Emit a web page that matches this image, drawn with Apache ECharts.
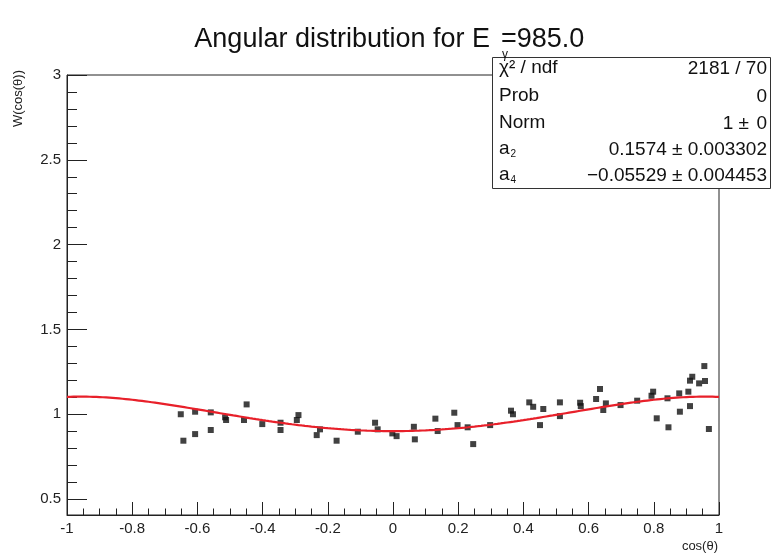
<!DOCTYPE html>
<html>
<head>
<meta charset="utf-8">
<script src="https://cdn.jsdelivr.net/npm/echarts@6/dist/echarts.min.js"></script>
<style>
  html, body { margin: 0; padding: 0; background: #fff; }
  #chart { width: 777px; height: 553px; }
</style>
</head>
<body>
<div id="chart"></div>
<script>
// Measured points: cos(theta) and normalised yield W
const cosTheta = [
  -0.651, -0.643, -0.607, -0.607, -0.559, -0.559, -0.515, -0.512, -0.449, -0.457,
  -0.401, -0.345, -0.345, -0.295, -0.290, -0.224, -0.234, -0.173, -0.108, -0.055,
  -0.047, -0.002, 0.011, 0.064, 0.067, 0.130, 0.137, 0.188, 0.198, 0.229,
  0.246, 0.298, 0.362, 0.368, 0.418, 0.430, 0.451, 0.461, 0.512, 0.512,
  0.574, 0.576, 0.623, 0.635, 0.645, 0.653, 0.698, 0.749, 0.793, 0.798,
  0.809, 0.845, 0.842, 0.878, 0.880, 0.906, 0.911, 0.911, 0.918, 0.939,
  0.957, 0.955, 0.969
];
const weight = [
  1.000, 0.844, 1.015, 0.883, 1.011, 0.907, 0.982, 0.966, 1.058, 0.966,
  0.942, 0.950, 0.907, 0.966, 0.995, 0.911, 0.877, 0.844, 0.897, 0.950,
  0.911, 0.887, 0.871, 0.926, 0.852, 0.974, 0.901, 1.009, 0.936, 0.923,
  0.824, 0.936, 1.021, 1.000, 1.070, 1.044, 0.936, 1.031, 1.070, 0.989,
  1.068, 1.048, 1.090, 1.149, 1.025, 1.064, 1.054, 1.080, 1.109, 1.133,
  0.976, 0.923, 1.094, 1.123, 1.015, 1.133, 1.048, 1.198, 1.221, 1.182,
  1.196, 1.284, 0.913
];

// Fit result: W = Norm * (1 + a2*P2 + a4*P4)
const fitNorm = 1;
const fitA2 = 0.1574;
const fitA4 = -0.05529;

// Axis tick values
const yMajorTicks = [0.5, 1, 1.5, 2, 2.5, 3];
const yMinorTicks = [0.6, 0.7, 0.8, 0.9, 1.1, 1.2, 1.3, 1.4, 1.6, 1.7, 1.8, 1.9,
                     2.1, 2.2, 2.3, 2.4, 2.6, 2.7, 2.8, 2.9];

// Stats box rows
const statNames = ['χ² / ndf', 'Prob', 'Norm', 'a{s|2}', 'a{s|4}'];
const statValues = ['2181 / 70', '0', '1 ±', '0.1574 ± 0.003302', '−0.05529 ± 0.004453'];
const normError = '0';

const FONT = '"Liberation Sans", Arial, Helvetica, sans-serif';

function legendreW(x) {
  const p2 = (3 * x * x - 1) / 2;
  const p4 = (35 * x ** 4 - 30 * x * x + 3) / 8;
  return fitNorm * (1 + fitA2 * p2 + fitA4 * p4);
}
const curve = [];
for (let i = 0; i <= 200; i++) {
  const x = -1 + i * 0.01;
  curve.push([x, legendreW(x)]);
}

const points = cosTheta.map((c, i) => [c, weight[i]]);

const chart = echarts.init(document.getElementById('chart'), null, { renderer: 'canvas' });

const gridLeft = 67, gridTop = 75, gridW = 652, gridH = 440;
const boxX = 492, boxY = 57, boxW = 278, boxH = 131;
const rowY = [69, 97, 124, 150, 176];
const STAT_FONT = '19px ' + FONT;

const statGraphics = [];
statNames.forEach((name, i) => {
  statGraphics.push({
    type: 'text', left: boxX + 7, top: rowY[i] - 11, z: 20,
    style: {
      text: name, fill: '#111', font: STAT_FONT,
      rich: { s: { fontSize: 10, fill: '#111', padding: [11, 0, 0, 1], fontFamily: FONT } }
    }
  });
  statGraphics.push({
    type: 'text', x: i === 2 ? 749 : 767, y: rowY[i], z: 20,
    style: { text: statValues[i], fill: '#111', font: STAT_FONT, align: 'right', verticalAlign: 'middle' }
  });
});
statGraphics.push({
  type: 'text', x: 767, y: rowY[2], z: 20,
  style: { text: normError, fill: '#111', font: STAT_FONT, align: 'right', verticalAlign: 'middle' }
});

chart.setOption({
  animation: false,
  backgroundColor: '#fff',
  grid: {
    left: gridLeft, top: gridTop, width: gridW, height: gridH,
    show: true, borderColor: '#222', borderWidth: 1, backgroundColor: 'transparent'
  },
  xAxis: {
    type: 'value', min: -1, max: 1, interval: 0.2,
    axisLine: { show: true, onZero: false, lineStyle: { color: '#222', width: 1 } },
    axisTick: { show: true, inside: true, length: 13, lineStyle: { color: '#222' } },
    minorTick: { show: true, splitNumber: 4, length: 6.5, lineStyle: { color: '#222' } },
    splitLine: { show: false },
    axisLabel: {
      margin: 6, color: '#222', fontSize: 15, fontFamily: FONT,
      formatter: v => String(Math.round(v * 10) / 10)
    }
  },
  yAxis: [{
    type: 'value', min: 0.406, max: 3,
    axisLine: { show: true, onZero: false, lineStyle: { color: '#222', width: 1 } },
    axisTick: { show: true, inside: true, length: 20, customValues: yMajorTicks, lineStyle: { color: '#222' } },
    splitLine: { show: false },
    axisLabel: {
      customValues: yMajorTicks, margin: 6, color: '#222', fontSize: 15, fontFamily: FONT,
      formatter: v => String(v)
    }
  }, {
    type: 'value', min: 0.406, max: 3, position: 'left',
    axisLine: { show: false, onZero: false },
    axisTick: { show: true, inside: true, length: 10, customValues: yMinorTicks, lineStyle: { color: '#222' } },
    axisLabel: { show: false },
    splitLine: { show: false }
  }],
  series: [{
    type: 'scatter', data: points, symbol: 'rect', symbolSize: 6,
    itemStyle: { color: '#111' }, z: 3, silent: true
  }, {
    type: 'line', data: curve, showSymbol: false, smooth: false,
    lineStyle: { color: '#e8202a', width: 2.2 }, z: 4, silent: true
  }],
  graphic: [
    {
      type: 'text', x: 490, y: 40, z: 10,
      style: { text: 'Angular distribution for E', font: '27px ' + FONT, fill: '#111', align: 'right', verticalAlign: 'middle' }
    },
    {
      type: 'text', x: 501, y: 40, z: 10,
      style: { text: '=985.0', font: '27px ' + FONT, fill: '#111', align: 'left', verticalAlign: 'middle' }
    },
    {
      type: 'rect', z: 15,
      shape: { x: boxX + 0.5, y: boxY + 0.5, width: boxW, height: boxH },
      style: { fill: '#fff', stroke: '#333', lineWidth: 1 }
    },
    {
      type: 'text', x: 505, y: 55, z: 30,
      style: { text: 'γ', font: '12px ' + FONT, fill: '#111', align: 'center', verticalAlign: 'middle' }
    },
    ...statGraphics,
    {
      type: 'text', x: 18, y: 70, rotation: Math.PI / 2, z: 10,
      style: { text: 'W(cos(θ))', font: '13px ' + FONT, fill: '#222', align: 'right', verticalAlign: 'middle' }
    },
    {
      type: 'text', x: 718, y: 546, z: 10,
      style: { text: 'cos(θ)', font: '13px ' + FONT, fill: '#222', align: 'right', verticalAlign: 'middle' }
    }
  ]
});
</script>
</body>
</html>
